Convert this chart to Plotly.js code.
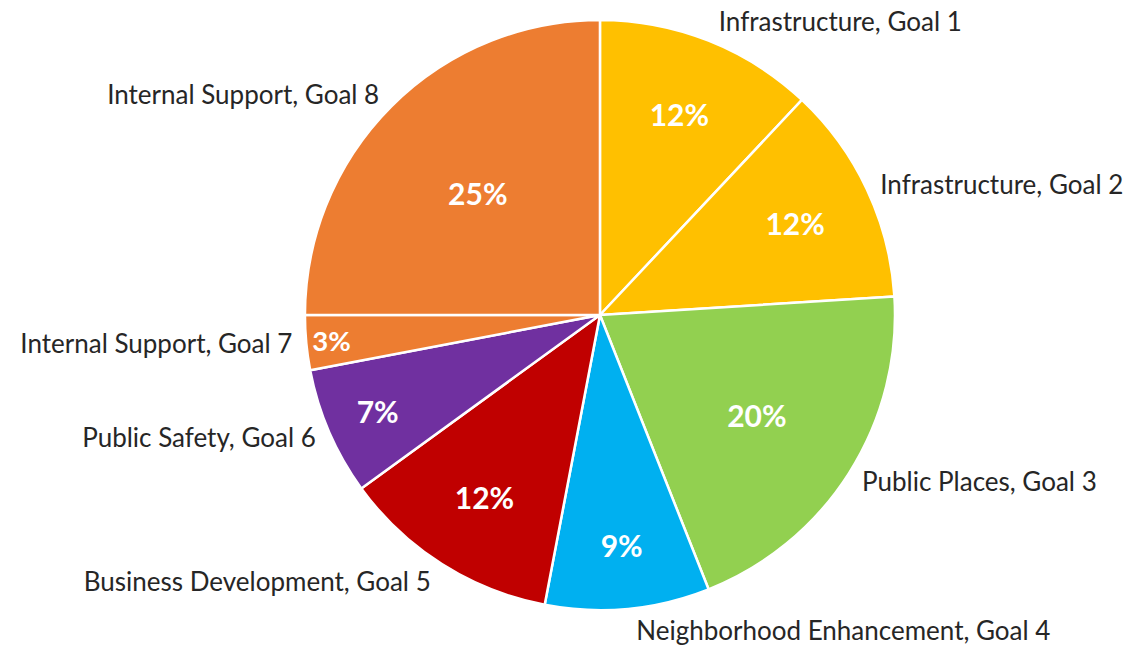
<!DOCTYPE html>
<html><head><meta charset="utf-8">
<script src="https://cdn.plot.ly/plotly-3.0.1.min.js"></script>
<style>html,body{margin:0;padding:0;background:#fff;}#chart{width:1139px;height:657px;}</style>
</head><body><div id="chart"></div>
<script>
const labels = ["Infrastructure, Goal 1","Infrastructure, Goal 2","Public Places, Goal 3","Neighborhood Enhancement, Goal 4","Business Development, Goal 5","Public Safety, Goal 6","Internal Support, Goal 7","Internal Support, Goal 8"];
const values = [12, 12, 20, 9, 12, 7, 3, 25];
const colors = ["#FFC000","#FFC000","#92D050","#00B0F0","#C00000","#7030A0","#ED7D31","#ED7D31"];

const base = {type:'pie', labels:labels, values:values, sort:false, direction:'clockwise', rotation:0,
  hoverinfo:'skip', showlegend:false};
const traces = [
  Object.assign({}, base, {
    domain:{x:[0.0535,1], y:[0.0715,0.9696]},
    marker:{colors:colors, line:{color:'#ffffff', width:2.5}},
    textposition:'inside', texttemplate:'%{percent:.0%}', insidetextorientation:'horizontal',
    insidetextfont:{family:'Lato, sans-serif', size:30, color:'#ffffff', weight:'bold'}
  }),
  Object.assign({}, base, {
    domain:{x:[0.0535,1], y:[0.0625,0.9785]},
    marker:{colors:colors.map(()=> 'rgba(0,0,0,0)'), line:{width:0}},
    textposition:'outside', texttemplate:'%{label}',
    outsidetextfont:{family:'Lato, sans-serif', size:26, color:'#262626'}
  })
];
const layout = {width:1139, height:657, margin:{l:0, r:0, t:0, b:0}, paper_bgcolor:'#fff', showlegend:false};
Plotly.newPlot('chart', traces, layout, {staticPlot:true});
</script></body></html>
